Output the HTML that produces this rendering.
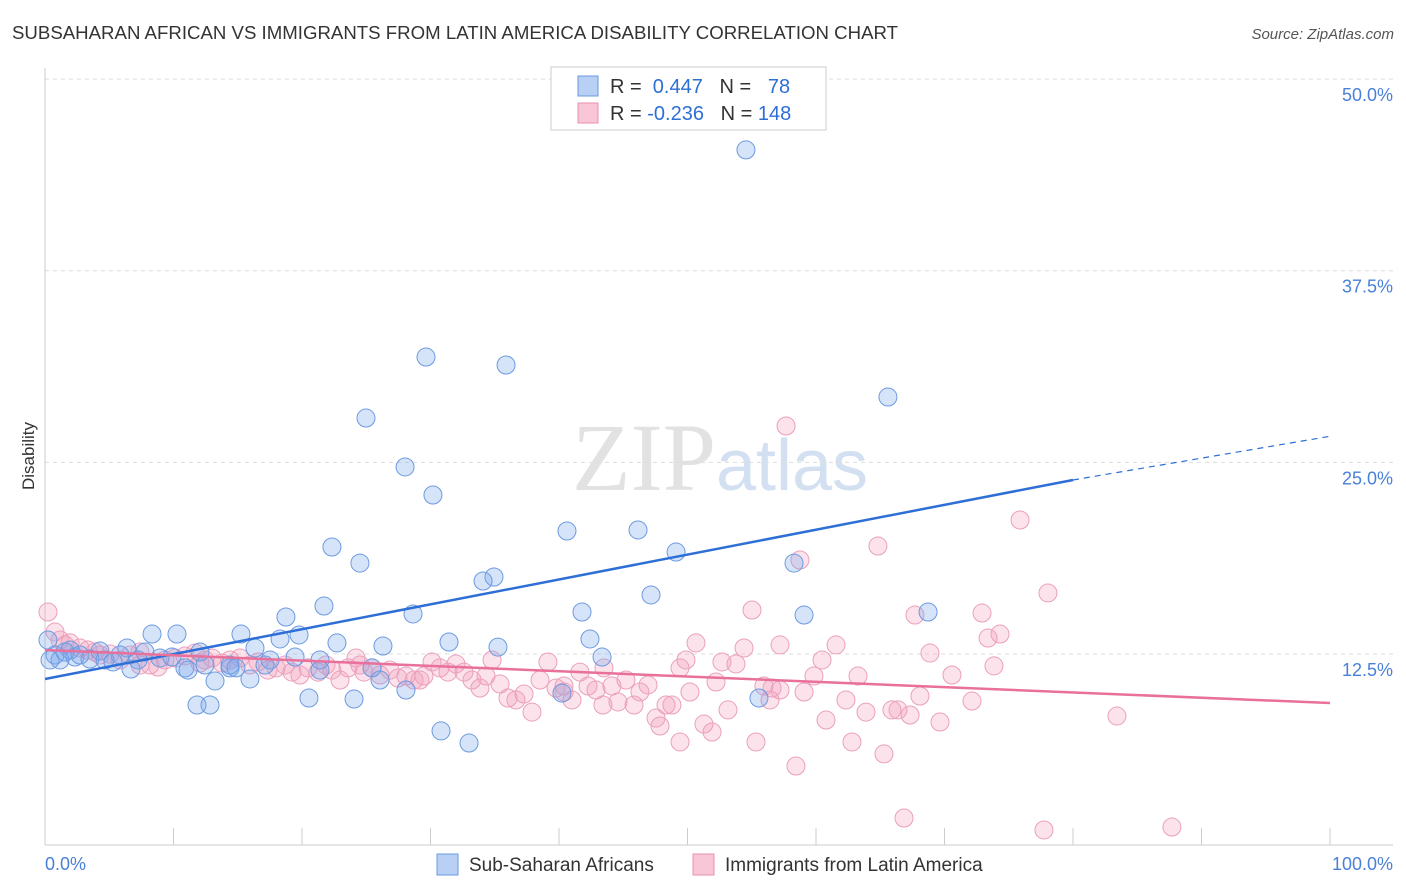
<!DOCTYPE html>
<html><head><meta charset="utf-8"><style>
body{margin:0;background:#fff;font-family:"Liberation Sans",sans-serif}
svg{display:block}
</style></head><body>
<svg id="c" width="1406" height="892" xmlns="http://www.w3.org/2000/svg">
<text x="12" y="39" font-size="18" fill="#333" textLength="886" lengthAdjust="spacingAndGlyphs">SUBSAHARAN AFRICAN VS IMMIGRANTS FROM LATIN AMERICA DISABILITY CORRELATION CHART</text>
<text x="1394" y="39" font-size="15" fill="#555" font-style="italic" text-anchor="end">Source: ZipAtlas.com</text>
<text x="34" y="456" font-size="17" fill="#333" transform="rotate(-90 34 456)" text-anchor="middle">Disability</text>
<text x="720" y="490" font-size="96" fill="#e2e2e2" text-anchor="middle" font-family="Liberation Serif,serif">ZIP<tspan fill="#d3e0f2" font-family="Liberation Sans,sans-serif" font-size="72">atlas</tspan></text>
<g id="grid"></g><g id="pts"></g><g id="lines"></g>
<g>
<rect x="551" y="67" width="275" height="63" fill="#fff" stroke="#ccc"/>
<rect x="578" y="76" width="20" height="20" fill="#b8d0f4" stroke="#6a9ae0"/>
<rect x="578" y="103" width="20" height="20" fill="#f8c6d6" stroke="#e890b0"/>
<text x="610" y="93" font-size="20" fill="#333">R = <tspan fill="#2d6fd6">&#160;0.447</tspan>&#160;&#160;&#160;N = <tspan fill="#2d6fd6">&#160;&#160;78</tspan></text>
<text x="610" y="120" font-size="20" fill="#333">R = <tspan fill="#2d6fd6">-0.236</tspan>&#160;&#160;&#160;N = <tspan fill="#2d6fd6">148</tspan></text>
</g>
<g>
<rect x="437" y="854" width="21" height="21" fill="#b8d0f4" stroke="#6a9ae0"/>
<text x="469" y="871" font-size="19" fill="#333">Sub-Saharan Africans</text>
<rect x="693" y="854" width="21" height="21" fill="#f8c6d6" stroke="#e890b0"/>
<text x="725" y="871" font-size="19" fill="#333">Immigrants from Latin America</text>
</g>
<text x="45" y="870" font-size="18" fill="#4a80d8">0.0%</text>
<text x="1393" y="870" font-size="18" fill="#4a80d8" text-anchor="end">100.0%</text>
</svg>
<script>
const yTicks=[12.5,25,37.5,50];
const yTickLabels=["12.5%","25.0%","37.5%","50.0%"];
const xTicks=[0,10,20,30,40,50,60,70,80,90,100];
const blueLine=[10.87,23.85,26.7];
const pinkLine=[12.76,9.3];
const bluePx=[[746,150],[426,357],[506,365],[366,418],[888,397],[405,467],[433,495],[567,531],[638,530],[676,552],[332,547],[360,563],[494,577],[483,581],[794,563],[651,595],[324,606],[286,617],[413,614],[582,612],[804,615],[928,612],[152,634],[177,634],[241,634],[299,635],[280,639],[337,643],[383,646],[449,642],[498,647],[590,639],[602,657],[127,648],[145,652],[100,651],[70,650],[55,655],[60,660],[75,657],[90,659],[105,660],[120,655],[138,660],[160,658],[172,657],[200,652],[205,665],[185,668],[188,670],[131,669],[230,668],[236,668],[255,648],[265,665],[270,660],[295,657],[320,660],[215,681],[250,679],[372,668],[380,680],[406,690],[309,698],[354,699],[197,705],[210,705],[441,731],[469,743],[562,693],[759,698],[48,640],[50,660],[65,652],[80,655],[113,662],[230,665],[320,670]];
const pinkPx=[[48,612],[55,632],[60,640],[65,645],[70,643],[80,648],[88,650],[95,652],[110,654],[120,660],[130,655],[140,652],[150,665],[158,667],[165,660],[175,658],[185,656],[195,653],[205,660],[212,658],[222,663],[230,660],[240,658],[250,665],[258,662],[268,670],[276,668],[285,665],[292,672],[300,675],[308,668],[318,672],[326,665],[332,670],[340,680],[348,668],[356,658],[364,672],[372,668],[380,675],[390,670],[398,678],[406,676],[414,680],[424,676],[432,662],[440,668],[448,672],[456,664],[464,672],[472,680],[480,688],[486,676],[492,660],[500,684],[508,698],[516,700],[524,694],[532,712],[540,680],[548,662],[556,688],[564,692],[572,700],[580,672],[588,686],[596,690],[604,668],[612,686],[618,702],[626,680],[634,705],[640,692],[648,685],[656,718],[660,726],[666,705],[672,705],[680,668],[686,660],[690,692],[696,643],[704,724],[712,732],[716,682],[722,662],[728,710],[736,664],[744,648],[752,610],[756,742],[764,686],[772,688],[780,645],[786,426],[796,766],[800,560],[804,692],[814,676],[822,660],[826,720],[836,645],[846,700],[852,742],[858,676],[866,712],[878,546],[884,754],[892,710],[898,710],[904,818],[910,715],[915,615],[920,696],[930,653],[940,722],[952,675],[972,701],[982,613],[988,638],[994,666],[1000,634],[1020,520],[1048,593],[1044,830],[1117,716],[1172,827],[770,700],[780,690],[680,742],[603,705],[564,686],[420,680],[360,665],[200,663],[100,655],[140,665]];
const blueX=bluePx.map(p=>+((p[0]-45)/12.85).toFixed(2)), blueY=bluePx.map(p=>+((845.6-p[1])/15.33).toFixed(2));
const pinkX=pinkPx.map(p=>+((p[0]-45)/12.85).toFixed(2)), pinkY=pinkPx.map(p=>+((845.6-p[1])/15.33).toFixed(2));
const X=v=>45+v*12.85, Y=v=>845.6-v*15.33;
const NS="http://www.w3.org/2000/svg";
function mk(parent,tag,a){const e=document.createElementNS(NS,tag);for(const k in a)e.setAttribute(k,a[k]);parent.appendChild(e);return e;}
const g=document.getElementById('grid');
yTicks.forEach((t,i)=>{
 const l=mk(g,'line',{x1:45,x2:1393,y1:Y(t),y2:Y(t),stroke:'#ddd','stroke-dasharray':'4,4'});
 
 
 const tx=mk(g,'text',{x:1393,y:Y(t)+22,'font-size':18,fill:'#4a80d8','text-anchor':'end'});
 tx.textContent=yTickLabels[i];
 
 
});
const ax=mk(g,'line',{x1:45,x2:1393,y1:845,y2:845,stroke:'#ccc'});


const ay=mk(g,'line',{x1:45,x2:45,y1:68,y2:845,stroke:'#ccc'});


xTicks.forEach(t=>{const l=mk(g,'line',{x1:X(t),x2:X(t),y1:828,y2:845,stroke:'#ccc'});
 
 });
const P=document.getElementById('pts');
pinkX.forEach((x,i)=>{const c=mk(P,'circle',{cx:X(x),cy:Y(pinkY[i]),r:9,fill:'rgba(242,160,190,0.3)',stroke:'#eba0bc','stroke-width':1});
 
 });
blueX.forEach((x,i)=>{const c=mk(P,'circle',{cx:X(x),cy:Y(blueY[i]),r:9,fill:'rgba(120,165,235,0.3)',stroke:'#6d9ae0','stroke-width':1});
 
 });
const L=document.getElementById('lines');
const b1=mk(L,'line',{x1:X(0),y1:Y(blueLine[0]),x2:X(80),y2:Y(blueLine[1]),stroke:'#2d6fd6','stroke-width':2.5});


const b2=mk(L,'line',{x1:X(80),y1:Y(blueLine[1]),x2:X(100),y2:Y(blueLine[2]),stroke:'#2d6fd6','stroke-width':1.2,'stroke-dasharray':'6,5'});


const p1=mk(L,'line',{x1:X(0),y1:Y(pinkLine[0]),x2:X(100),y2:Y(pinkLine[1]),stroke:'#e8709a','stroke-width':2.5});


</script>
</body></html>
